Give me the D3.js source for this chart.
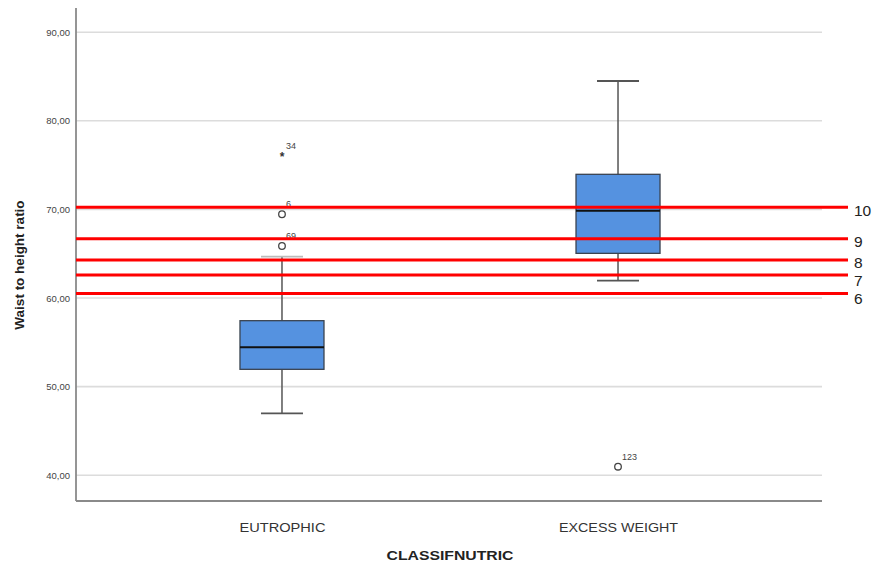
<!DOCTYPE html>
<html>
<head>
<meta charset="utf-8">
<script src="https://cdn.jsdelivr.net/npm/d3@7"></script>
<style>
  body { margin: 0; background: #fff; }
  svg { display: block; font-family: "Liberation Sans", Arial, sans-serif; }
</style>
</head>
<body>
<svg id="chart" width="874" height="567"></svg>
<script>
// Groups on the x axis
const categories = ["EUTROPHIC", "EXCESS WEIGHT"];
// Box statistics per group: lower whisker, Q1, median, Q3, upper whisker
const whiskerLow = [46.98, 61.95];
const q1 = [51.95, 65.04];
const median = [54.44, 69.85];
const q3 = [57.44, 73.96];
const whiskerHigh = [64.66, 84.49];
// Outlying cases: group index, value, case number, marker kind
const outlierGroup = [0, 0, 0, 1];
const outlierValue = [65.87, 69.45, 76.0, 40.96];
const outlierCase = ["69", "6", "34", "123"];
const outlierKind = ["circle", "circle", "star", "circle"];
// Reference lines and their labels
const refValues = [70.24, 66.7, 64.3, 62.6, 60.5];
const refLabels = ["10", "9", "8", "7", "6"];
// Y axis ticks
const yTicks = [40, 50, 60, 70, 80, 90];

const svg = d3.select("#chart");
const plotLeft = 76, plotRight = 824, plotTop = 8, plotBottom = 501;

const y = d3.scaleLinear().domain([60, 90]).range([298, 32.2]);
const x = d3.scalePoint().domain(categories).range([plotLeft, plotRight]).padding(0.613);

// gridlines
svg.append("g").selectAll("line").data(yTicks).join("line")
  .attr("x1", plotLeft).attr("x2", 822)
  .attr("y1", d => y(d)).attr("y2", d => y(d))
  .attr("stroke", "#dcdcdc").attr("stroke-width", 1.6);

// y axis
const yAxis = svg.append("g").attr("transform", `translate(${plotLeft},0)`)
  .call(d3.axisLeft(y).tickValues(yTicks).tickSize(0).tickPadding(6)
    .tickFormat(d => d3.format(".2f")(d).replace(".", ",")));
yAxis.select(".domain").remove();
yAxis.selectAll("text").attr("fill", "#444").attr("font-size", 9.5);
svg.append("line").attr("x1", plotLeft).attr("x2", plotLeft).attr("y1", plotTop).attr("y2", plotBottom)
  .attr("stroke", "#8a8a8a").attr("stroke-width", 1.8);

// x axis
const xAxis = svg.append("g").attr("transform", `translate(0,${plotBottom})`)
  .call(d3.axisBottom(x).tickSize(0).tickPadding(21));
xAxis.select(".domain").remove();
xAxis.selectAll("text").attr("fill", "#333").attr("font-size", 13.5)
  .attr("textLength", d => d === "EUTROPHIC" ? 86 : 119).attr("lengthAdjust", "spacingAndGlyphs");
svg.append("line").attr("x1", plotLeft).attr("x2", 822).attr("y1", plotBottom).attr("y2", plotBottom)
  .attr("stroke", "#8a8a8a").attr("stroke-width", 1.8);

// axis titles
svg.append("text").attr("x", 450).attr("y", 560).attr("text-anchor", "middle")
  .attr("font-weight", "bold").attr("font-size", 13).attr("fill", "#222")
  .attr("textLength", 127).attr("lengthAdjust", "spacingAndGlyphs")
  .text("CLASSIFNUTRIC");
svg.append("text").attr("transform", "translate(24,265) rotate(-90)")
  .attr("text-anchor", "middle").attr("font-weight", "bold").attr("font-size", 13.5)
  .attr("fill", "#222").text("Waist to height ratio");

// boxes
const boxW = 84, capW = 42;
const groups = svg.append("g").selectAll("g").data(categories).join("g");
groups.append("line")
  .attr("x1", d => x(d)).attr("x2", d => x(d))
  .attr("y1", (d, i) => y(whiskerLow[i])).attr("y2", (d, i) => y(q1[i]))
  .attr("stroke", "#555").attr("stroke-width", 1.5);
groups.append("line")
  .attr("x1", d => x(d)).attr("x2", d => x(d))
  .attr("y1", (d, i) => y(q3[i])).attr("y2", (d, i) => y(whiskerHigh[i]))
  .attr("stroke", "#555").attr("stroke-width", 1.5);
groups.append("line")
  .attr("x1", d => x(d) - capW / 2).attr("x2", d => x(d) + capW / 2)
  .attr("y1", (d, i) => y(whiskerLow[i])).attr("y2", (d, i) => y(whiskerLow[i]))
  .attr("stroke", "#555").attr("stroke-width", 1.8);
groups.append("line")
  .attr("x1", d => x(d) - capW / 2).attr("x2", d => x(d) + capW / 2)
  .attr("y1", (d, i) => y(whiskerHigh[i])).attr("y2", (d, i) => y(whiskerHigh[i]))
  .attr("stroke", (d, i) => i === 0 ? "#bbb" : "#555").attr("stroke-width", 1.8);
groups.append("rect")
  .attr("x", d => x(d) - boxW / 2).attr("width", boxW)
  .attr("y", (d, i) => y(q3[i])).attr("height", (d, i) => y(q1[i]) - y(q3[i]))
  .attr("fill", "#5592e0").attr("stroke", "#3a4350").attr("stroke-width", 1.3);
groups.append("line")
  .attr("x1", d => x(d) - boxW / 2).attr("x2", d => x(d) + boxW / 2)
  .attr("y1", (d, i) => y(median[i])).attr("y2", (d, i) => y(median[i]))
  .attr("stroke", "#111").attr("stroke-width", 2.2);

// outliers
const outliers = outlierValue.map((v, i) => ({
  g: categories[outlierGroup[i]], v, label: outlierCase[i], kind: outlierKind[i]
}));
const og = svg.append("g");
og.selectAll("circle").data(outliers.filter(d => d.kind === "circle")).join("circle")
  .attr("cx", d => x(d.g)).attr("cy", d => y(d.v)).attr("r", 3.3)
  .attr("fill", "none").attr("stroke", "#444").attr("stroke-width", 1.3);
og.selectAll("text.star").data(outliers.filter(d => d.kind === "star")).join("text")
  .attr("class", "star").attr("x", d => x(d.g)).attr("y", d => y(d.v) + 5)
  .attr("text-anchor", "middle").attr("font-size", 12).attr("font-weight", "bold")
  .attr("fill", "#333").text("*");
og.selectAll("text.lab").data(outliers).join("text")
  .attr("class", "lab").attr("x", d => x(d.g) + 4).attr("y", d => y(d.v) - 7)
  .attr("font-size", 9).attr("fill", "#444").text(d => d.label);

// reference lines
svg.append("g").selectAll("line").data(refValues).join("line")
  .attr("x1", plotLeft).attr("x2", 848)
  .attr("y1", d => y(d)).attr("y2", d => y(d))
  .attr("stroke", "#ff0000").attr("stroke-width", 3);

// labels at the line ends, pushed down so neighbours keep a minimum gap
const labelGap = 18;
const labelY = [];
refValues.forEach((v, i) => {
  let yy = y(v) + 3;
  if (i > 0) yy = Math.max(yy, labelY[i - 1] + labelGap);
  labelY.push(yy);
});
svg.append("g").selectAll("text").data(refValues).join("text")
  .attr("x", 854).attr("y", (d, i) => labelY[i]).attr("dy", "0.36em")
  .attr("font-size", 15.5).attr("fill", "#222")
  .text((d, i) => refLabels[i]);
</script>
</body>
</html>
